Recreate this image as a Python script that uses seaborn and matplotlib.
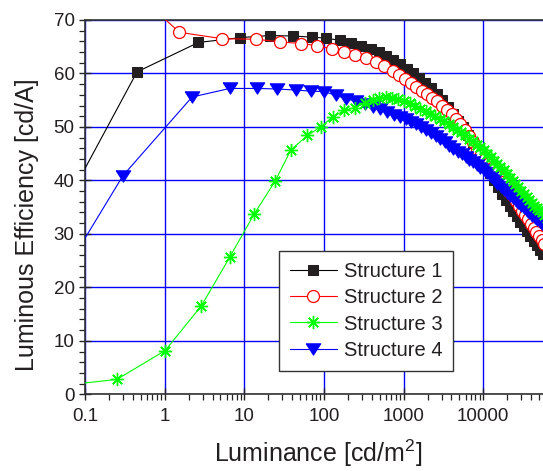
import matplotlib
matplotlib.use("Agg")
import matplotlib.pyplot as plt
import seaborn as sns
import numpy as np
from matplotlib.ticker import FixedLocator, NullFormatter

# ---------------- data ----------------
s1_lum = [0.06, 0.45, 2.66, 8.9, 21, 41, 70, 106, 159, 220, 294, 387, 493, 611, 743, 904,
          1090, 1310, 1570, 1870, 2220, 2620, 3080, 3600, 4190, 4860, 5610, 6450, 7390, 8430,
          9580, 10850, 12250, 13790, 15480, 17330, 19350, 21550, 23950, 26550, 29370, 32420,
          35720, 39280, 43120, 47250, 51700, 56000]
s1_eff = [36.1, 60.3, 65.8, 66.7, 67.1, 67.0, 66.8, 66.6, 66.2, 65.7, 65.2, 64.6, 64.0, 63.3, 62.6, 61.8,
          60.9, 60.0, 59.1, 58.3, 57.3, 56.1, 55.0, 53.7, 52.5, 51.2, 49.9, 48.4, 47.0, 45.5,
          44.0, 42.6, 41.3, 40.0, 38.8, 37.5, 36.3, 35.3, 34.3, 33.3, 32.3, 31.4,
          30.5, 29.6, 28.7, 27.9, 27.0, 26.2]

s2_lum = [0.5, 1.53, 5.3, 14, 28.4, 51, 83, 125, 181, 247, 334, 448, 571, 727, 877,
          1040, 1230, 1450, 1700, 1980, 2300, 2660, 3060, 3510, 4010, 4570, 5190, 5880, 6640,
          7480, 8400, 9410, 10510, 11710, 13020, 14440, 15980, 17650, 19450, 21390, 23480,
          25730, 28140, 30730, 33500, 36460, 39620, 43000, 46600, 50400, 54400, 58700]
s2_eff = [74.3, 67.7, 66.5, 66.4, 65.9, 65.6, 65.2, 64.6, 64.0, 63.4, 62.8, 62.1, 61.4, 60.5, 59.7,
          59.0, 58.2, 57.5, 56.8, 56.2, 55.5, 54.8, 54.0, 53.2, 52.4, 51.5, 50.5, 49.5, 48.3,
          47.1, 45.9, 44.9, 44.0, 43.2, 42.4, 41.5, 40.6, 39.7, 38.8, 37.9, 37.0,
          36.1, 35.2, 34.3, 33.5, 32.7, 31.9, 31.1, 30.4, 29.6, 28.8, 28.1]

s3_lum = [0.05, 0.252, 1.01, 2.88, 6.6, 13.3, 24.5, 38.5, 62, 91, 129, 181, 243, 325, 414, 493, 600,
          720, 860, 1020, 1200, 1400, 1630, 1890, 2180, 2500, 2860, 3260, 3700, 4190, 4730,
          5320, 5970, 6680, 7450, 8290, 9200, 10190, 11260, 12420, 13670, 15020, 16470, 18030,
          19700, 21490, 23400, 25450, 27640, 29970, 32450, 35090, 37900, 40880, 44040, 47390,
          50940, 54700, 58680, 62900]
s3_eff = [1.6, 2.8, 8.15, 16.5, 25.7, 33.7, 39.9, 45.7, 48.4, 50.0, 51.9, 53.1, 53.6, 54.4, 55.0, 55.5, 55.6,
          55.5, 55.3, 54.9, 54.4, 53.9, 53.4, 53.0, 52.5, 52.0, 51.5, 51.1, 50.6, 50.0, 49.5,
          49.0, 48.4, 47.8, 47.3, 46.7, 46.2, 45.7, 45.0, 44.4, 43.7, 43.1, 42.5, 41.9,
          41.2, 40.5, 39.9, 39.3, 38.7, 38.1, 37.5, 36.9, 36.3, 35.8, 35.3, 34.9,
          34.4, 34.0, 33.5, 33.0]

s4_lum = [0.05, 0.30, 2.21, 6.6, 14.4, 25.8, 44, 68, 101, 142, 190, 250, 325, 414, 513, 629, 765, 904,
          1060, 1240, 1440, 1670, 1930, 2220, 2540, 2900, 3300, 3740, 4230, 4770, 5360, 6010,
          6720, 7490, 8330, 9240, 10230, 11300, 12460, 13710, 15060, 16510, 18070, 19740,
          21530, 23450, 25500, 27690, 30030, 32520, 35170, 37990, 40990, 44170, 47540, 51110,
          54890, 58890, 63100]
s4_eff = [21.8, 40.9, 55.6, 57.2, 57.2, 57.1, 56.9, 56.7, 56.6, 55.9, 55.3, 54.8, 54.3, 53.8, 53.3, 52.8, 52.3, 51.9,
          51.5, 51.0, 50.5, 50.0, 49.5, 48.9, 48.3, 47.7, 47.1, 46.5, 45.9, 45.4, 44.9, 44.4,
          43.9, 43.4, 42.9, 42.3, 41.9, 41.3, 40.7, 40.1, 39.4, 38.8, 38.2, 37.7,
          37.1, 36.7, 36.2, 35.7, 35.2, 34.8, 34.3, 33.9, 33.4, 33.0, 32.6, 32.2,
          31.8, 31.4, 31.0]

labels = ["Structure 1", "Structure 2", "Structure 3", "Structure 4"]
x_ticks = [0.1, 1, 10, 100, 1000, 10000]
x_ticklabels = ["0.1", "1", "10", "100", "1000", "10000"]
y_ticks = [0, 10, 20, 30, 40, 50, 60, 70]

# ---------------- style ----------------
sns.set_style("white")
plt.rcParams["font.family"] = ["Liberation Sans", "DejaVu Sans"]
plt.rcParams["mathtext.fontset"] = "custom"
plt.rcParams["mathtext.rm"] = "Liberation Sans"
plt.rcParams["mathtext.it"] = "Liberation Sans:italic"
plt.rcParams["axes.unicode_minus"] = False

fig = plt.figure(figsize=(5.43, 4.71), dpi=100)
ax = fig.add_axes([85 / 543, (471 - 394.3) / 471, (543 - 85) / 543 + 0.01, 374.3 / 471])

tri_down = [(-1.0, 0.78), (1.0, 0.78), (0.0, -0.78), (-1.0, 0.78)]
star8 = (8, 2, 0)

series = [
    (s1_lum, s1_eff, dict(color="#000000", marker="s", markersize=7.6, mfc="#231f20",
                          mec="#231f20", zorder=3)),
    (s2_lum, s2_eff, dict(color="#ff0000", marker="o", markersize=8.6, mfc="white",
                          mec="#ff0000", mew=0.9, zorder=4)),
    (s4_lum, s4_eff, dict(color="#0000ff", marker=tri_down, markersize=10.5, mfc="#0000ff",
                          mec="#0000ff", zorder=5)),
    (s3_lum, s3_eff, dict(color="#00ff00", marker=star8, markersize=9.5, mfc="#00ff00",
                          mec="#00ff00", mew=1.0, zorder=6)),
]
order_labels = [labels[0], labels[1], labels[3], labels[2]]
handles = {}
for (xs, ys, kw), lab in zip(series, order_labels):
    sns.lineplot(x=xs, y=ys, ax=ax, linewidth=0.8, sort=False, label=lab,
                 legend=False, **kw)
    handles[lab] = ax.lines[-1]

ax.set_xscale("log")
ax.set_xlim(0.1, 6.6e4)
ax.set_ylim(0, 70)

ax.xaxis.set_major_locator(FixedLocator(x_ticks))
ax.set_xticklabels(x_ticklabels)
minor = [m * 10.0 ** e for e in range(-1, 5) for m in range(2, 10)]
ax.xaxis.set_minor_locator(FixedLocator(minor))
ax.xaxis.set_minor_formatter(NullFormatter())
ax.set_yticks(y_ticks)
ax.yaxis.set_minor_locator(FixedLocator(list(range(0, 71, 2))))

ax.grid(True, which="major", color="#0000ff", linewidth=1.0)
ax.set_axisbelow(True)

for side in ["left", "bottom", "top"]:
    ax.spines[side].set_visible(True)
    ax.spines[side].set_color("#333333")
    ax.spines[side].set_linewidth(1.2)
ax.spines["right"].set_visible(False)

ax.tick_params(axis="both", which="major", direction="inout", length=9, width=1.0,
               color="#222222", labelsize=13.5, labelcolor="#231f20")
ax.tick_params(axis="both", which="minor", direction="out", length=4, width=0.9,
               color="#222222")
ax.tick_params(axis="x", which="major", pad=5.5, bottom=True, top=False)
ax.tick_params(axis="x", which="minor", bottom=True, top=False)
ax.tick_params(axis="y", which="major", pad=3.0, left=True, right=False)
ax.tick_params(axis="y", which="minor", left=True, right=False)

ax.set_xlabel("Luminance [cd/m$^2$]", fontsize=18, color="#231f20")
ax.set_ylabel("Luminous Efficiency [cd/A]", fontsize=18, color="#231f20")
ax.xaxis.set_label_coords(0.504, -0.115)
ax.yaxis.set_label_coords(-0.10, 0.452)

leg = ax.legend([handles[l] for l in labels], labels, loc="upper left",
                bbox_to_anchor=(0.419, 0.383), fontsize=14.5, numpoints=1,
                handlelength=2.3, handletextpad=0.35, labelspacing=0.36,
                borderpad=0.55, borderaxespad=0.0, frameon=True, fancybox=False,
                framealpha=1.0)
leg.get_frame().set_edgecolor("#333333")
leg.get_frame().set_linewidth(1.0)
for t in leg.get_texts():
    t.set_color("#231f20")
leg.set_zorder(10)

fig.savefig("out.png", dpi=100)
